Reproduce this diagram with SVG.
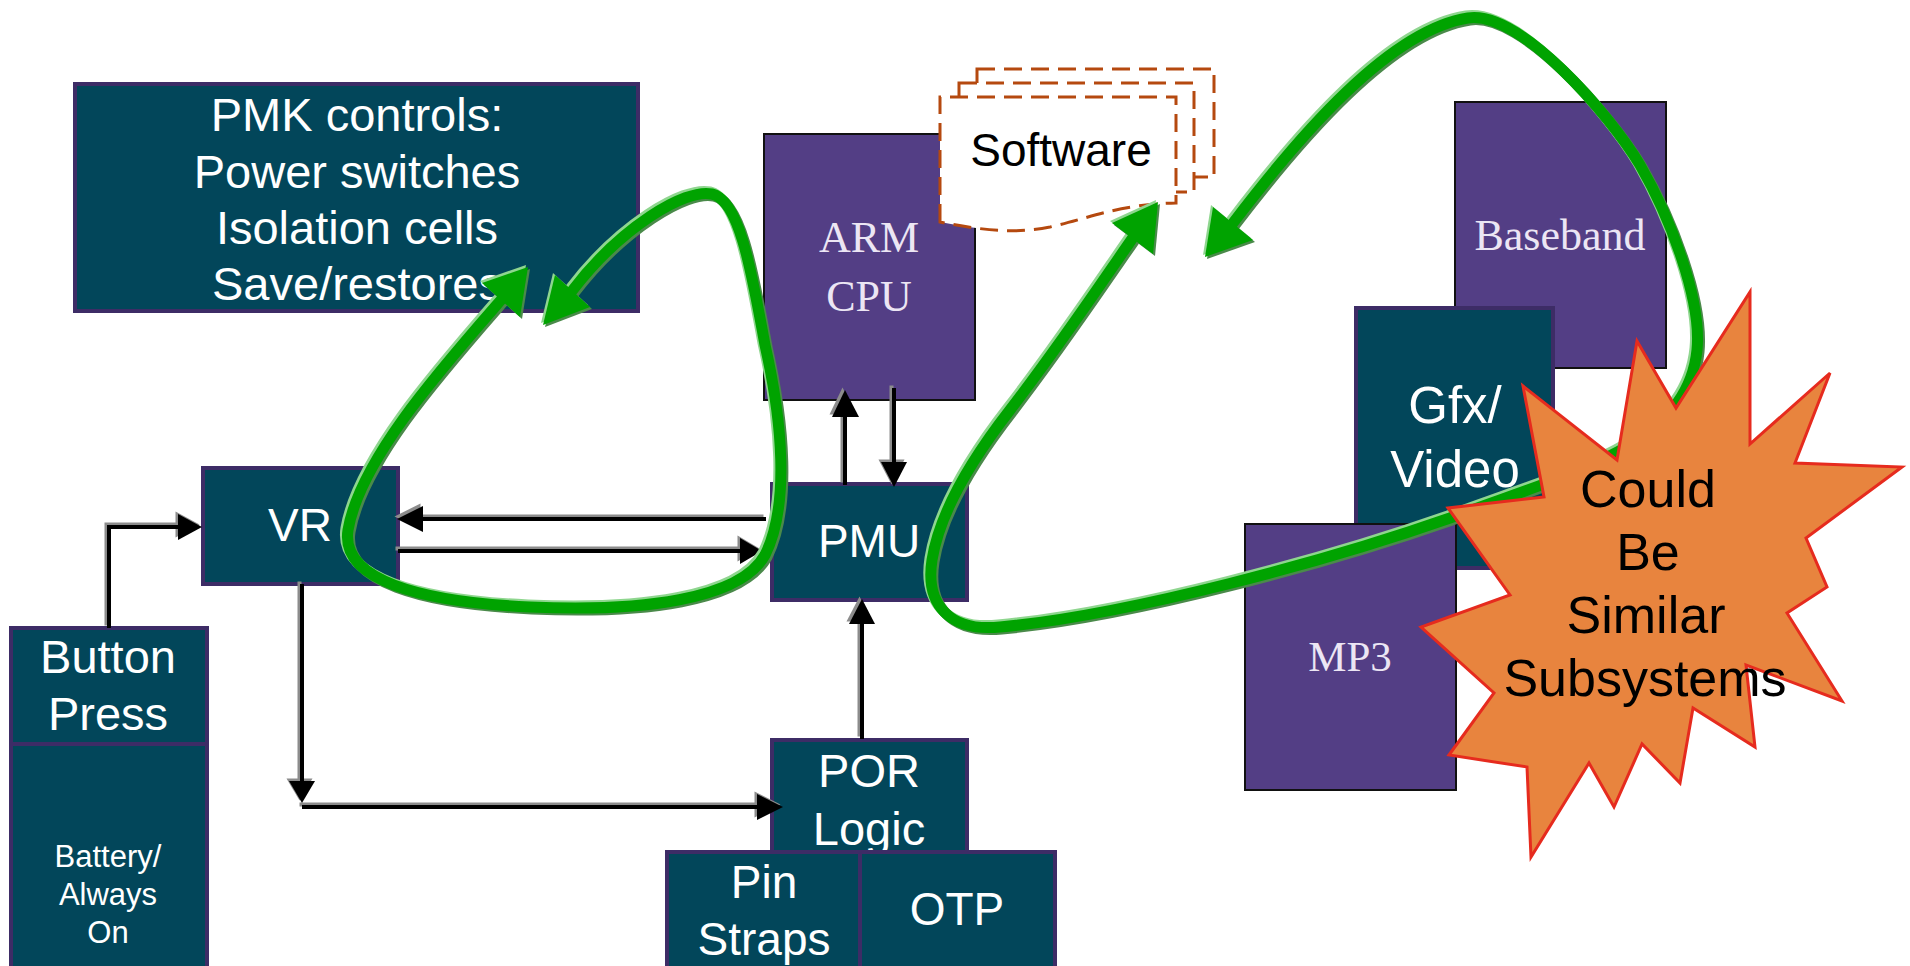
<svg xmlns="http://www.w3.org/2000/svg" xmlns:xlink="http://www.w3.org/1999/xlink" width="1910" height="966" viewBox="0 0 1910 966">
<style>
.teal{fill:#02465a;stroke:#3d2c66;stroke-width:4}
.purp{fill:#533e85;stroke:#111;stroke-width:2}
.tw{font-family:"Liberation Sans",Arial,sans-serif;fill:#fff;text-anchor:middle}
.ts{font-family:"Liberation Serif","Times New Roman",serif;fill:#ece6f4;text-anchor:middle}
.tb{font-family:"Liberation Sans",Arial,sans-serif;fill:#000;text-anchor:middle}
.page{fill:#fff;stroke:#b5490f;stroke-width:3;stroke-dasharray:18 9}
</style>
<defs>
<g id="conns">
<path fill="none" stroke-width="4" d="M109,628 V527 H180"/>
<polygon stroke="none" points="202,527 178,514 178,540"/>
<path fill="none" stroke-width="4" d="M302,584 V784"/>
<polygon stroke="none" points="302,803 289,781 315,781"/>
<path fill="none" stroke-width="4" d="M302,807 H760"/>
<polygon stroke="none" points="783,807 757,794 757,820"/>
<path fill="none" stroke-width="4" d="M766,519 H420"/>
<polygon stroke="none" points="397,519 423,506 423,532"/>
<path fill="none" stroke-width="4" d="M398,551 H742"/>
<polygon stroke="none" points="762,551 740,538 740,564"/>
<path fill="none" stroke-width="4" d="M862,739 V620"/>
<polygon stroke="none" points="862,599 849,624 875,624"/>
<path fill="none" stroke-width="4" d="M845,485 V412"/>
<polygon stroke="none" points="845,390 832,417 859,417"/>
<path fill="none" stroke-width="4" d="M894,388 V466"/>
<polygon stroke="none" points="894,487 881,462 907,462"/>
</g>
<g id="loops">
<path fill="none" stroke-width="11" stroke-linecap="round" d="M501,300 C440,370 360,460 348,530 C340,580 420,602 530,607 C640,612 740,600 765,555 C790,505 782,420 765,345 C752,275 740,200 712,194 C685,188 620,228 572,291"/>
<polygon stroke="none" points="528,267 482,283 520,317"/>
<polygon stroke="none" points="543,325 555,275 590,307"/>
<path fill="none" stroke-width="11" stroke-linecap="round" d="M1233,223 C1300,135 1390,30 1468,18 C1520,10 1610,115 1640,165 C1670,217 1702,300 1697,350 C1693,390 1670,420 1630,445 C1580,475 1510,495 1450,518 C1330,560 1130,615 1000,627 C950,632 925,605 932,560 C940,510 975,455 1010,410 C1060,345 1100,285 1132,239"/>
<polygon stroke="none" points="1158,202 1112,223 1153,254"/>
<polygon stroke="none" points="1205,257 1213,207 1253,240"/>
</g>
</defs>

<g id="pmk">
<rect class="teal" x="75" y="84" width="563" height="227"/>
<text class="tw" font-size="47" x="357" y="131">PMK controls:</text>
<text class="tw" font-size="47" x="357" y="188">Power switches</text>
<text class="tw" font-size="47" x="357" y="244">Isolation cells</text>
<text class="tw" font-size="47" x="357" y="300">Save/restores</text>
</g>

<g id="arm">
<rect class="purp" x="764" y="134" width="211" height="266"/>
<text class="ts" font-size="44" x="869" y="252">ARM</text>
<text class="ts" font-size="44" x="869" y="311">CPU</text>
</g>

<g id="software">
<rect class="page" x="977" y="69" width="237" height="108"/>
<rect class="page" x="959" y="83" width="235" height="109"/>
<path class="page" d="M940,222 V97 H1176 V203 C1120,204 1090,218 1050,227 C1020,233 990,232 940,222 Z"/>
<text class="tb" font-size="46" x="1061" y="166">Software</text>
</g>

<g id="baseband">
<rect class="purp" x="1455" y="102" width="211" height="266"/>
<text class="ts" font-size="44" x="1560" y="250">Baseband</text>
</g>

<g id="gfx">
<rect class="teal" x="1356" y="308" width="197" height="260"/>
<text class="tw" font-size="51" x="1455" y="423">Gfx/</text>
<text class="tw" font-size="51" x="1455" y="487">Video</text>
</g>

<g id="mp3">
<rect class="purp" x="1245" y="524" width="211" height="266"/>
<text class="ts" font-size="43" x="1350" y="671">MP3</text>
</g>

<g id="vr">
<rect class="teal" x="203" y="468" width="195" height="116"/>
<text class="tw" font-size="46" x="300" y="541">VR</text>
</g>

<g id="pmu">
<rect class="teal" x="772" y="484" width="195" height="116"/>
<text class="tw" font-size="46" x="869" y="557">PMU</text>
</g>

<g id="por">
<rect class="teal" x="772" y="740" width="195" height="112"/>
<text class="tw" font-size="47" x="869" y="787">POR</text>
<text class="tw" font-size="47" x="869" y="845">Logic</text>
</g>

<g id="pinstraps">
<rect class="teal" x="667" y="852" width="193" height="130"/>
<text class="tw" font-size="46" x="764" y="898">Pin</text>
<text class="tw" font-size="46" x="764" y="955">Straps</text>
</g>

<g id="otp">
<rect class="teal" x="860" y="852" width="195" height="130"/>
<text class="tw" font-size="46" x="957" y="925">OTP</text>
</g>

<g id="button">
<rect class="teal" x="11" y="628" width="196" height="116"/>
<text class="tw" font-size="47" x="108" y="673">Button</text>
<text class="tw" font-size="47" x="108" y="730">Press</text>
</g>

<g id="battery">
<rect class="teal" x="11" y="744" width="196" height="240"/>
<text class="tw" font-size="31" x="108" y="867">Battery/</text>
<text class="tw" font-size="31" x="108" y="905">Always</text>
<text class="tw" font-size="31" x="108" y="943">On</text>
</g>

<g id="connectors">
<use xlink:href="#conns" href="#conns" transform="translate(-2.5,-2.5)" stroke="#8c8c8c" fill="#8c8c8c"/>
<use xlink:href="#conns" href="#conns" stroke="#000" fill="#000"/>
<use xlink:href="#loops" href="#loops" transform="translate(-2,-2)" stroke="#8fd68f" fill="#8fd68f"/>
<use xlink:href="#loops" href="#loops" transform="translate(2,2)" stroke="#4a8a4a" fill="#4a8a4a"/>
<use xlink:href="#loops" href="#loops" stroke="#00a300" fill="#00a300"/>
</g>

<g id="starburst">
<polygon fill="#e8843e" stroke="#e62b1e" stroke-width="3" stroke-linejoin="miter" points="1523,386 1617,460 1637,341 1676,408 1750,292 1750,444 1830,373 1795,463 1902,467 1806,538 1827,587 1787,613 1842,701 1746,665 1755,747 1693,708 1680,783 1642,744 1614,807 1589,763 1531,857 1527,767 1449,755 1494,693 1421,627 1510,595 1448,508 1544,497"/>
<text class="tb" font-size="52" x="1648" y="507">Could</text>
<text class="tb" font-size="52" x="1648" y="570">Be</text>
<text class="tb" font-size="52" x="1646" y="633">Similar</text>
<text class="tb" font-size="52" x="1645" y="696">Subsystems</text>
</g>
</svg>
